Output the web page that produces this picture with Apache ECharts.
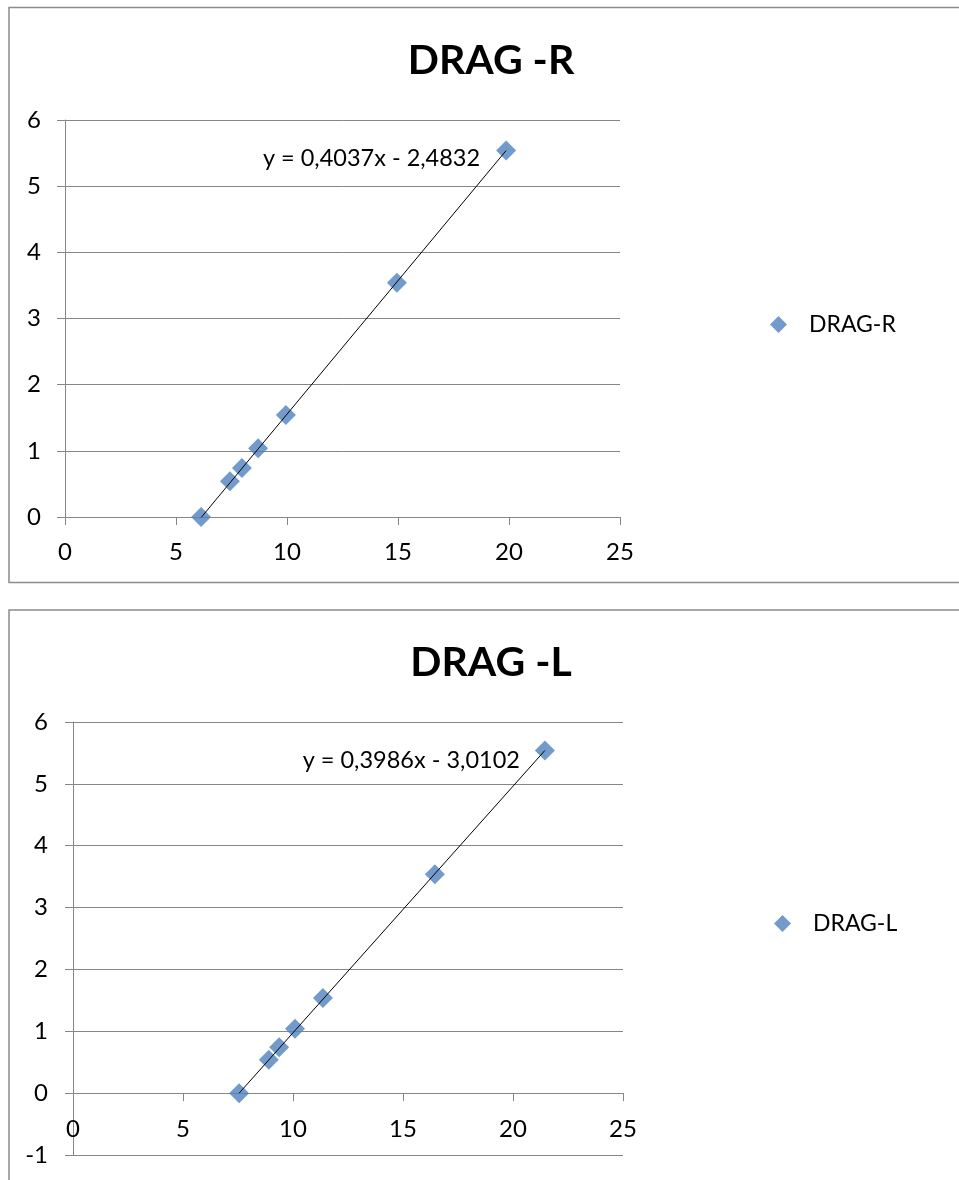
<!DOCTYPE html>
<html>
<head>
<meta charset="utf-8">
<title>DRAG</title>
<script src="https://cdn.jsdelivr.net/npm/echarts@6/dist/echarts.min.js"></script>
<style>
  html, body { margin: 0; padding: 0; background: #fff; }
  #chart { width: 959px; height: 1180px; }
</style>
</head>
<body>
<div id="chart"></div>
<script>
// Measured points for the right-hand channel
const dragRX = [6.13, 7.43, 7.97, 8.70, 9.95, 14.95, 19.87];
const dragRY = [0, 0.54, 0.74, 1.04, 1.54, 3.54, 5.54];
// Measured points for the left-hand channel
const dragLX = [7.55, 8.90, 9.37, 10.09, 11.36, 16.45, 21.45];
const dragLY = [0, 0.54, 0.74, 1.04, 1.54, 3.54, 5.54];

// Linear trend coefficients shown on each chart
const fitR = { slope: 0.4037, intercept: -2.4832 };
const fitL = { slope: 0.3986, intercept: -3.0102 };

const titles = ['DRAG -R', 'DRAG -L'];
const seriesNames = ['DRAG-R', 'DRAG-L'];
const xTicks = { min: 0, max: 25, interval: 5 };
const yTicksR = { min: 0, max: 6, interval: 1 };
const yTicksL = { min: -1, max: 6, interval: 1 };

const FONT = 'Lato, "Open Sans", sans-serif';
const BLUE = '#4F81BD';
const GRID_GRAY = '#868686';

const grids = [
  { left: 65, top: 120, width: 555, height: 397 },
  { left: 73, top: 722, width: 550, height: 433 }
];

function pairs(xs, ys) { return xs.map((x, i) => [x, ys[i]]); }

function trendLine(xs, fit) {
  const x0 = Math.min(...xs), x1 = Math.max(...xs);
  return [[x0, fit.slope * x0 + fit.intercept], [x1, fit.slope * x1 + fit.intercept]];
}

function fmtCoef(v) { return Math.abs(v).toFixed(4).replace('.', ','); }
function equation(fit) {
  return 'y = ' + fmtCoef(fit.slope) + 'x ' + (fit.intercept < 0 ? '- ' : '+ ') + fmtCoef(fit.intercept);
}

// The x axis crosses the y axis at 0: shift it up from the grid bottom by the height of the negative range
function zeroOffset(grid, t) {
  return -grid.height * (0 - t.min) / (t.max - t.min);
}

function xAxisCfg(gridIndex, margin, offset) {
  return {
    type: 'value', gridIndex, min: xTicks.min, max: xTicks.max, interval: xTicks.interval,
    offset,
    axisLine: { show: true, onZero: false, lineStyle: { color: GRID_GRAY, width: 1 } },
    axisTick: { show: true, inside: false, length: 8, lineStyle: { color: GRID_GRAY } },
    splitLine: { show: false },
    axisLabel: { color: '#000', fontFamily: FONT, fontSize: 24, margin }
  };
}
function yAxisCfg(gridIndex, t, margin) {
  return {
    type: 'value', gridIndex, min: t.min, max: t.max, interval: t.interval,
    axisLine: { show: true, onZero: false, lineStyle: { color: GRID_GRAY, width: 1 } },
    axisTick: { show: true, inside: false, length: 8, lineStyle: { color: GRID_GRAY } },
    splitLine: { show: true, lineStyle: { color: GRID_GRAY, width: 1 } },
    axisLabel: { color: '#000', fontFamily: FONT, fontSize: 24, margin }
  };
}

function scatterSeries(name, idx, data) {
  return {
    name, type: 'scatter', xAxisIndex: idx, yAxisIndex: idx, data,
    symbol: 'diamond', symbolSize: 20, clip: false,
    itemStyle: { color: BLUE }, z: 3
  };
}
function trendSeries(idx, data, fit, labelDist, labelOffset) {
  return {
    name: 'trend' + idx, type: 'line', xAxisIndex: idx, yAxisIndex: idx, data,
    symbol: 'none', silent: true, z: 4,
    lineStyle: { color: '#000', width: 1 },
    markPoint: {
      silent: true, symbol: 'circle', symbolSize: 0,
      data: [{ coord: data[data.length - 1] }],
      label: {
        show: true, formatter: equation(fit), position: 'left',
        distance: labelDist, offset: labelOffset,
        color: '#000', fontFamily: FONT, fontSize: 23.5
      }
    }
  };
}

const chart = echarts.init(document.getElementById('chart'), null, { renderer: 'canvas' });

chart.setOption({
  animation: false,
  backgroundColor: '#fff',
  graphic: [
    { type: 'rect', shape: { x: 9, y: 7.5, width: 1000, height: 575 },
      style: { fill: 'none', stroke: '#8c8c8c', lineWidth: 1.5 }, z: -1 },
    { type: 'rect', shape: { x: 9, y: 610, width: 1000, height: 600 },
      style: { fill: 'none', stroke: '#8c8c8c', lineWidth: 1.5 }, z: -1 }
  ],
  title: [
    { text: titles[0], left: 486, top: 35, textAlign: 'center',
      textStyle: { fontFamily: FONT, fontWeight: 'bold', fontSize: 41, color: '#000' } },
    { text: titles[1], left: 486, top: 637, textAlign: 'center',
      textStyle: { fontFamily: FONT, fontWeight: 'bold', fontSize: 41, color: '#000' } }
  ],
  legend: [
    { data: [seriesNames[0]], left: 765, top: 308, icon: 'diamond', itemWidth: 17, itemHeight: 17,
      textStyle: { fontFamily: FONT, fontSize: 23, color: '#000', padding: [0, 0, 0, 17] } },
    { data: [seriesNames[1]], left: 769, top: 907, icon: 'diamond', itemWidth: 17, itemHeight: 17,
      textStyle: { fontFamily: FONT, fontSize: 23, color: '#000', padding: [0, 0, 0, 17] } }
  ],
  grid: grids.map(g => Object.assign({ outerBoundsMode: 'none', containLabel: false }, g)),
  xAxis: [
    xAxisCfg(0, 23, zeroOffset(grids[0], yTicksR)),
    xAxisCfg(1, 24, zeroOffset(grids[1], yTicksL))
  ],
  yAxis: [yAxisCfg(0, yTicksR, 24), yAxisCfg(1, yTicksL, 25)],
  series: [
    scatterSeries(seriesNames[0], 0, pairs(dragRX, dragRY)),
    trendSeries(0, trendLine(dragRX, fitR), fitR, 26, [0, 8]),
    scatterSeries(seriesNames[1], 1, pairs(dragLX, dragLY)),
    trendSeries(1, trendLine(dragLX, fitL), fitL, 25, [0, 10])
  ]
});
</script>
</body>
</html>
